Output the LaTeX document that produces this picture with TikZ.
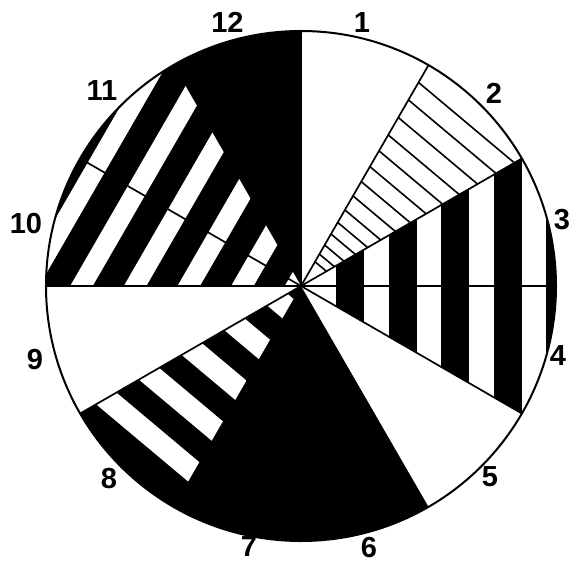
\documentclass[tikz,border=0pt]{standalone}
\usepackage{fontspec}
\setmainfont{Liberation Sans}
\begin{document}
\begin{tikzpicture}[x=1pt,y=1pt,
  lab/.style={font=\bfseries\fontsize{29}{29}\selectfont, inner sep=0pt},
  ray/.style={line width=1.7pt, black},
  hatchline/.style={line width=1.6pt, black},
  rim/.style={line width=2pt, black}]
\useasboundingbox (-301,-278) rectangle (268,286);
\def\R{255}
\coordinate (O) at (0,0);
\foreach \a in {-30,0,30,60,90,150,180,210} {\coordinate (p\a) at (\a:\R);}
% solid black sectors
\fill[black] (O) -- (90:\R) arc[start angle=90, end angle=180, radius=\R] -- cycle;
\fill[black] (O) -- (210:\R) arc[start angle=210, end angle=300, radius=\R] -- cycle;
% white stripes in sectors 10-11
\begin{scope}
  \clip (O) -- (120:\R) arc[start angle=120, end angle=180, radius=\R] -- cycle;
  \begin{scope}[rotate=150]
    \foreach \c in {4.35,50.8,97.25,143.7,190.15,236.6}
      {\fill[white] (\c-9.75,-300) rectangle (\c+9.75,300);}
  \end{scope}
\end{scope}
% white stripes in sector 8
\begin{scope}
  \clip (O) -- (210:\R) arc[start angle=210, end angle=240, radius=\R] -- cycle;
  \begin{scope}[rotate=230]
    \foreach \c in {25.7,72.1,118.5,164.9,211.3}
      {\fill[white] (\c-11,-300) rectangle (\c+11,300);}
  \end{scope}
\end{scope}
% vertical black stripes in sectors 3-4
\begin{scope}
  \clip (O) -- (-30:\R) arc[start angle=-30, end angle=30, radius=\R] -- cycle;
  \foreach \k in {0,...,4}
    {\fill[black] ({35+52.5*\k},-300) rectangle ({63+52.5*\k},300);}
\end{scope}
% hatch lines in sector 2
\begin{scope}
  \clip (O) -- (30:\R) arc[start angle=30, end angle=60, radius=\R] -- cycle;
  \begin{scope}[rotate=50]
    \foreach \t in {28,36.8,47.3,60,73.4,87.8,104,120.5,137.8,156,174.4,194.5,214.8,235}
      {\draw[hatchline] ({0.985*\t},-300) -- ({0.985*\t},300);}
  \end{scope}
\end{scope}
% boundary rays
\foreach \a in {-30,0,30,60,90,150,180,210} {\draw[ray] (O) -- (p\a);}
% rim
\draw[rim] (O) circle[radius=\R];
% labels
\node[lab] (l12) at (-73.5,263.5) {12};
\node[lab] (l1) at (61,263) {1};
\node[lab] (l2) at (193,193) {2};
\node[lab] (l3) at (261,66) {3};
\node[lab] (l4) at (257,-70) {4};
\node[lab] (l5) at (189,-191) {5};
\node[lab] (l6) at (68,-262) {6};
\node[lab] (l7) at (-52,-261) {7};
\node[lab] (l8) at (-192,-193) {8};
\node[lab] (l9) at (-266,-74) {9};
\node[lab] (l10) at (-275,62) {10};
\node[lab] (l11) at (-199,195) {11};
\end{tikzpicture}
\end{document}
